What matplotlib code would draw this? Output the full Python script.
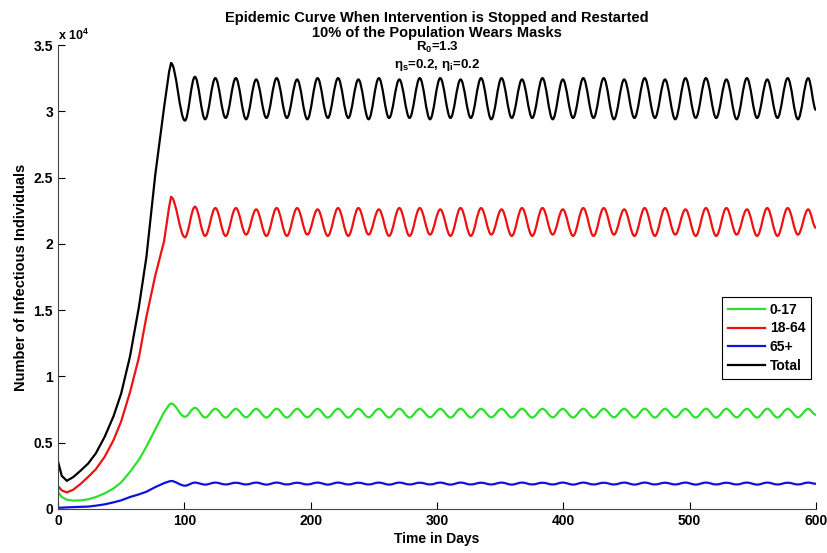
import matplotlib
matplotlib.use("Agg")
import matplotlib.pyplot as plt
from matplotlib.path import Path
from matplotlib.patches import PathPatch
from matplotlib.lines import Line2D

plt.rcParams['font.family'] = ['Liberation Sans', 'DejaVu Sans']
plt.rcParams['mathtext.fontset'] = 'custom'
plt.rcParams['mathtext.rm'] = 'Liberation Sans:bold'

# values, in units of 10^4
rise_days = [0, 3, 7, 12, 18, 24, 30, 37, 44, 50, 57, 64, 70, 77, 84, 88]
black_rise = [0.36, 0.25, 0.213, 0.24, 0.29, 0.344, 0.42, 0.545, 0.70, 0.87, 1.15, 1.52, 1.90, 2.52, 3.03, 3.30]
red_rise = [0.173, 0.14, 0.125, 0.145, 0.19, 0.243, 0.30, 0.394, 0.52, 0.66, 0.88, 1.14, 1.45, 1.76, 2.02, 2.28]
green_rise = [0.13, 0.09, 0.07, 0.063, 0.065, 0.073, 0.09, 0.118, 0.155, 0.20, 0.28, 0.37, 0.47, 0.60, 0.73, 0.785]
blue_rise = [0.01, 0.01, 0.012, 0.014, 0.016, 0.018, 0.025, 0.035, 0.05, 0.065, 0.09, 0.11, 0.13, 0.165, 0.195, 0.208]

first_peak_day = 89.5
first_peaks = {"black": 3.363, "red": 2.353, "green": 0.796, "blue": 0.211}

trough_days = [100.5, 116.5, 132.7, 148.9, 165.0, 181.2, 197.4, 213.6, 229.8, 245.9, 262.1,
               278.3, 294.5, 310.7, 326.8, 343.0, 359.2, 375.4, 391.6, 407.7, 423.9, 440.1,
               456.3, 472.5, 488.6, 504.8, 521.0, 537.2, 553.4, 569.5, 585.7]
peak_days = [108.4, 124.6, 140.8, 156.9, 173.1, 189.3, 205.5, 221.7, 237.8, 254.0, 270.2,
             286.4, 302.6, 318.7, 334.9, 351.1, 367.3, 383.5, 399.6, 415.8, 432.0, 448.2,
             464.4, 480.5, 496.7, 512.9, 529.1, 545.3, 561.4, 577.6, 593.8]

black_troughs = [2.93, 2.94, 2.95, 2.94, 2.95, 2.95, 2.94, 2.95, 2.95, 2.94, 2.95,
                 2.95, 2.94, 2.95, 2.95, 2.94, 2.95, 2.95, 2.94, 2.95, 2.95, 2.94,
                 2.95, 2.95, 2.94, 2.95, 2.95, 2.94, 2.95, 2.95, 2.94]
black_peaks = [3.26, 3.25, 3.25, 3.24, 3.25, 3.24, 3.25, 3.25, 3.24, 3.25, 3.24,
               3.25, 3.25, 3.24, 3.25, 3.25, 3.24, 3.25, 3.24, 3.25, 3.25, 3.24,
               3.25, 3.24, 3.25, 3.25, 3.24, 3.25, 3.24, 3.25, 3.25]
red_troughs = [2.05, 2.06, 2.06, 2.07, 2.06, 2.06, 2.07, 2.06, 2.06, 2.07, 2.06,
               2.06, 2.07, 2.06, 2.06, 2.07, 2.06, 2.06, 2.07, 2.06, 2.06, 2.07,
               2.06, 2.06, 2.07, 2.06, 2.06, 2.07, 2.06, 2.06, 2.07]
red_peaks = [2.28, 2.27, 2.27, 2.26, 2.27, 2.27, 2.26, 2.27, 2.27, 2.26, 2.27,
             2.27, 2.26, 2.27, 2.27, 2.26, 2.27, 2.27, 2.26, 2.27, 2.27, 2.26,
             2.27, 2.27, 2.26, 2.27, 2.27, 2.26, 2.27, 2.27, 2.26]
green_troughs = [0.696, 0.69, 0.69, 0.692, 0.69, 0.69, 0.692, 0.69, 0.69, 0.692, 0.69,
                 0.69, 0.692, 0.69, 0.69, 0.692, 0.69, 0.69, 0.692, 0.69, 0.69, 0.692,
                 0.69, 0.69, 0.692, 0.69, 0.69, 0.692, 0.69, 0.69, 0.692]
green_peaks = [0.763, 0.756, 0.755, 0.755, 0.756, 0.755, 0.755, 0.756, 0.755, 0.755, 0.756,
               0.755, 0.755, 0.756, 0.755, 0.755, 0.756, 0.755, 0.755, 0.756, 0.755, 0.755,
               0.756, 0.755, 0.755, 0.756, 0.755, 0.755, 0.756, 0.755, 0.755]
blue_troughs = [0.176, 0.184, 0.185, 0.185, 0.184, 0.185, 0.185, 0.184, 0.185, 0.185, 0.184,
                0.185, 0.185, 0.184, 0.185, 0.185, 0.184, 0.185, 0.185, 0.184, 0.185, 0.185,
                0.184, 0.185, 0.185, 0.184, 0.185, 0.185, 0.184, 0.185, 0.185]
blue_peaks = [0.199, 0.199, 0.198, 0.199, 0.199, 0.198, 0.199, 0.199, 0.198, 0.199, 0.199,
              0.198, 0.199, 0.199, 0.198, 0.199, 0.199, 0.198, 0.199, 0.199, 0.198, 0.199,
              0.199, 0.198, 0.199, 0.199, 0.198, 0.199, 0.199, 0.198, 0.199]

end_day = 600
end_values = {"black": 3.01, "red": 2.12, "green": 0.71, "blue": 0.19}

labels = ["0-17", "18-64", "65+", "Total"]
colors = {"green": "#2ee02e", "red": "#ee1111", "blue": "#1111dd", "black": "black"}


def build_path(rise, first_peak, troughs, peaks, end_value):
    """
    Polyline for the rise, then smooth bezier arcs between the read extrema
    """
    verts = [(d, v) for d, v in zip(rise_days, rise)]
    codes = [Path.MOVETO] + [Path.LINETO] * (len(verts) - 1)
    ext = [(first_peak_day, first_peak)]
    for i in range(len(peaks)):
        ext.append((trough_days[i], troughs[i]))
        ext.append((peak_days[i], peaks[i]))
    ext.append((end_day, end_value))
    verts.append(ext[0])
    codes.append(Path.LINETO)
    for (t0, y0), (t1, y1) in zip(ext[:-1], ext[1:]):
        dt = t1 - t0
        verts += [(t0 + 0.36 * dt, y0), (t1 - 0.36 * dt, y1), (t1, y1)]
        codes += [Path.CURVE4] * 3
    return Path(verts, codes)


fig = plt.figure(figsize=(8.28, 5.53), dpi=100)
ax = fig.add_axes([0.070, 0.0796, 0.9155, 0.839])

series = [
    ("green", green_rise, green_troughs, green_peaks),
    ("red", red_rise, red_troughs, red_peaks),
    ("blue", blue_rise, blue_troughs, blue_peaks),
    ("black", black_rise, black_troughs, black_peaks),
]
for name, rise, troughs, peaks in series:
    p = build_path(rise, first_peaks[name], troughs, peaks, end_values[name])
    ax.add_patch(PathPatch(p, fill=False, edgecolor=colors[name], lw=1.6))

ax.set_xlim(0, 600)
ax.set_ylim(0, 3.5)
ax.set_xticks([0, 100, 200, 300, 400, 500, 600])
ax.set_yticks([0, 0.5, 1, 1.5, 2, 2.5, 3, 3.5])
ax.set_yticklabels(["0", "0.5", "1", "1.5", "2", "2.5", "3", "3.5"])
ax.tick_params(direction="in", length=5, labelsize=10, width=0.8)
for lab in ax.get_xticklabels() + ax.get_yticklabels():
    lab.set_fontweight("bold")
ax.spines["top"].set_visible(False)
ax.spines["right"].set_visible(False)
ax.spines["left"].set_color("#444444")
ax.spines["bottom"].set_color("#444444")

ax.set_xlabel("Time in Days", fontsize=10, fontweight="bold", labelpad=3)
ax.set_ylabel("Number of Infectious Individuals", fontsize=10.5, fontweight="bold", labelpad=4)
ax.text(0.0, 1.005, r"x 10$^{\mathregular{4}}$", transform=ax.transAxes, fontsize=9,
        fontweight="bold", ha="left", va="bottom")

fig.text(0.528, 0.968, "Epidemic Curve When Intervention is Stopped and Restarted",
         ha="center", va="center", fontsize=10.5, fontweight="bold")
fig.text(0.528, 0.940, "10% of the Population Wears Masks",
         ha="center", va="center", fontsize=10.5, fontweight="bold")
fig.text(0.528, 0.914, r"R$_{\mathregular{0}}$=1.3",
         ha="center", va="center", fontsize=9.5, fontweight="bold")
fig.text(0.528, 0.882, r"$\mathregular{\eta_s}$=0.2, $\mathregular{\eta_i}$=0.2",
         ha="center", va="center", fontsize=9.5, fontweight="bold")

handles = [Line2D([], [], color=colors[c], lw=1.6) for c in ["green", "red", "blue", "black"]]
leg = ax.legend(handles, labels, loc="upper right", bbox_to_anchor=(0.993, 0.457),
                borderaxespad=0, fancybox=False, framealpha=1, edgecolor="black", fontsize=10,
                handlelength=2.7, borderpad=0.4, labelspacing=0.35, handletextpad=0.3)
leg.get_frame().set_linewidth(0.8)
for t in leg.get_texts():
    t.set_fontweight("bold")

fig.savefig("out.png", dpi=100)
